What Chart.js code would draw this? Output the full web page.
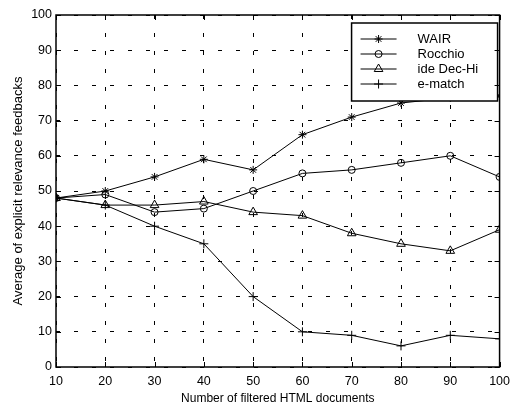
<!DOCTYPE html>
<html>
<head>
<meta charset="utf-8">
<script src="https://cdn.jsdelivr.net/npm/chart.js@4/dist/chart.umd.min.js"></script>
<style>
  html, body { margin: 0; padding: 0; background: #fff; }
</style>
</head>
<body>
<canvas id="chart" width="517" height="407"></canvas>
<script>
const docs = [10, 20, 30, 40, 50, 60, 70, 80, 90, 100];
const wair = [48, 50, 54, 59, 56, 66, 71, 75, 76.5, 77];
const rocchio = [48, 49, 44, 45, 50, 55, 56, 58, 60, 54];
const ideDecHi = [48, 46, 46, 47, 44, 43, 38, 35, 33, 39];
const eMatch = [48, 46, 40, 35, 20, 10, 9, 6, 9, 8];
const seriesNames = ["WAIR", "Rocchio", "ide Dec-Hi", "e-match"];
const markers = ["star", "circle", "triangle", "cross"];
const markerSizes = [4, 3.5, 5, 4.5];

const font = "'Liberation Sans', Arial, sans-serif";

function points(values) {
  return values.map((v, i) => ({ x: docs[i], y: v }));
}

const datasets = [wair, rocchio, ideDecHi, eMatch].map((vals, i) => ({
  label: seriesNames[i],
  data: points(vals),
  borderColor: "#000",
  borderWidth: 1,
  pointStyle: markers[i],
  pointRadius: markerSizes[i],
  pointBorderColor: "#000",
  pointBackgroundColor: "rgba(0,0,0,0)",
  pointBorderWidth: 1,
  tension: 0
}));

// frame and inward ticks like the original plot
const framePlugin = {
  id: "frame",
  afterDraw(chart) {
    const { ctx, chartArea: a, scales } = chart;
    ctx.save();
    ctx.strokeStyle = "#000";
    ctx.lineWidth = 1;
    ctx.beginPath();
    scales.x.ticks.forEach(t => {
      const px = Math.round(scales.x.getPixelForValue(t.value)) + 0.5;
      ctx.moveTo(px, a.bottom); ctx.lineTo(px, a.bottom - 5);
      ctx.moveTo(px, a.top); ctx.lineTo(px, a.top + 5);
    });
    scales.y.ticks.forEach(t => {
      const py = Math.round(scales.y.getPixelForValue(t.value)) + 0.5;
      ctx.moveTo(a.left, py); ctx.lineTo(a.left + 5, py);
      ctx.moveTo(a.right, py); ctx.lineTo(a.right - 5, py);
    });
    ctx.stroke();
    ctx.lineWidth = 1.5;
    ctx.strokeRect(a.left, a.top, a.right - a.left, a.bottom - a.top);
    ctx.restore();
  }
};

// legend box inside the plot, top right
const legendPlugin = {
  id: "boxLegend",
  afterDatasetsDraw(chart) {
    const { ctx, chartArea: a } = chart;
    const w = 146, h = 78;
    const x0 = a.right - w - 2, y0 = a.top + 8;
    ctx.save();
    ctx.fillStyle = "#fff";
    ctx.fillRect(x0, y0, w, h);
    ctx.strokeStyle = "#000";
    ctx.lineWidth = 1.5;
    ctx.strokeRect(x0, y0, w, h);
    ctx.font = "13px " + font;
    ctx.textBaseline = "middle";
    chart.data.datasets.forEach((ds, i) => {
      const y = y0 + 16 + i * 15;
      ctx.strokeStyle = "#000";
      ctx.lineWidth = 1;
      ctx.beginPath();
      ctx.moveTo(x0 + 9, y); ctx.lineTo(x0 + 45, y);
      ctx.stroke();
      ctx.fillStyle = "rgba(0,0,0,0)";
      Chart.helpers.drawPoint(ctx, {
        pointStyle: ds.pointStyle, radius: ds.pointRadius, rotation: 0, borderWidth: 1
      }, x0 + 27, y);
      ctx.fillStyle = "#000";
      ctx.fillText(ds.label, x0 + 66, y);
    });
    ctx.restore();
  }
};

new Chart(document.getElementById("chart"), {
  type: "line",
  data: { datasets },
  plugins: [legendPlugin, framePlugin],
  options: {
    responsive: false,
    animation: false,
    layout: { padding: { left: 0, right: 11, top: 15, bottom: 0 } },
    plugins: { legend: { display: false }, tooltip: { enabled: false } },
    scales: {
      x: {
        type: "linear",
        min: 10, max: 100,
        afterFit: s => { s.height = 40; },
        ticks: { stepSize: 10, padding: 7, color: "#000", font: { family: font, size: 12.5 } },
        grid: { color: "#000", lineWidth: 1, drawTicks: false },
        border: { display: false, dash: [4, 14] },
        title: { display: true, text: "Number of filtered HTML documents", color: "#000",
                 font: { family: font, size: 12 }, padding: { top: 0, bottom: 1 } }
      },
      y: {
        min: 0, max: 100,
        afterFit: s => { s.width = 56; },
        ticks: { stepSize: 10, padding: 4, color: "#000", font: { family: font, size: 12.5 } },
        grid: { color: "#000", lineWidth: 1, drawTicks: false },
        border: { display: false, dash: [4, 14] },
        title: { display: true, text: "Average of explicit relevance feedbacks", color: "#000",
                 font: { family: font, size: 13 }, padding: { top: 11, bottom: 0 } }
      }
    }
  }
});
</script>
</body>
</html>
